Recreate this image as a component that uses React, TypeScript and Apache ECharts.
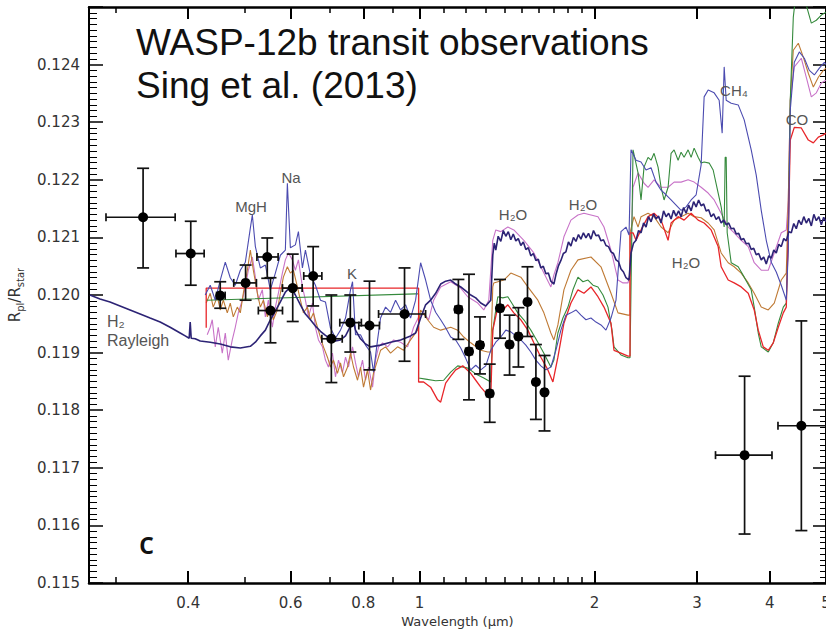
import React, { useEffect, useRef } from "react";
import * as echarts from "echarts";

const X_MIN = 0.27;
const X_MAX = 5;
const Y_MIN = 0.115;
const Y_MAX = 0.125;
const Y_STEP = 0.001;
const X_LABELS = [0.4, 0.6, 0.8, 1, 2, 3, 4, 5];
const X_MINOR = [0.3, 0.5, 0.7, 0.9, 1.1, 1.2, 1.3, 1.4, 1.5, 1.6, 1.7, 1.8, 1.9];

// observations: wavelength, Rpl/Rstar, wl low, wl high, R low, R high
const OBS: number[][] = [
  [0.3345, 0.12135, 0.2888, 0.3798, 0.12047, 0.1222],
  [0.404, 0.12072, 0.381, 0.426, 0.12017, 0.12128],
  [0.454, 0.11999, 0.4475, 0.463, 0.11977, 0.12023],
  [0.502, 0.12021, 0.479, 0.524, 0.11991, 0.12052],
  [0.547, 0.12066, 0.525, 0.571, 0.12029, 0.12099],
  [0.554, 0.11973, 0.528, 0.581, 0.11917, 0.1203],
  [0.605, 0.12012, 0.581, 0.628, 0.11954, 0.12071],
  [0.656, 0.12033, 0.632, 0.679, 0.11981, 0.12084],
  [0.705, 0.11924, 0.679, 0.736, 0.11848, 0.12],
  [0.76, 0.11952, 0.729, 0.794, 0.11901, 0.12],
  [0.82, 0.11947, 0.786, 0.853, 0.1187, 0.12024],
  [0.942, 0.11967, 0.85, 1.024, 0.11885, 0.12047],
  [1.166, 0.11975, 1.15, 1.182, 0.11923, 0.12027],
  [1.216, 0.11902, 1.2, 1.232, 0.11818, 0.12036],
  [1.27, 0.11913, 1.254, 1.286, 0.11863, 0.11962],
  [1.32, 0.11829, 1.304, 1.336, 0.11779, 0.1188],
  [1.375, 0.11977, 1.359, 1.391, 0.11925, 0.12027],
  [1.428, 0.11914, 1.412, 1.444, 0.11861, 0.11965],
  [1.479, 0.11928, 1.463, 1.495, 0.11875, 0.11978],
  [1.533, 0.11988, 1.517, 1.549, 0.11928, 0.12049],
  [1.585, 0.11849, 1.569, 1.601, 0.11784, 0.11914],
  [1.64, 0.11831, 1.624, 1.656, 0.11764, 0.11895],
  [3.622, 0.11722, 3.228, 4.037, 0.11585, 0.11859],
  [4.535, 0.11773, 4.134, 5.05, 0.11591, 0.11955],
];

const NAVY: number[][] = [
  [0.271,0.12],[0.282,0.11993],[0.2934,0.11988],[0.3053,0.11981],[0.3177,0.11974],[0.3306,0.11967],[0.3439,0.1196],[0.3579,0.11953],[0.3723,0.11944],[0.3874,0.11934],[0.3952,0.11929],[0.4015,0.11925],[0.4031,0.11953],[0.4047,0.11925],[0.4112,0.11924],[0.4194,0.1192],[0.4364,0.11918],[0.4541,0.11915],[0.4724,0.1191],[0.4916,0.11908],[0.5115,0.11911],[0.5218,0.11918],[0.5322,0.11929],[0.5429,0.11939],[0.5537,0.11957],[0.5648,0.11972],[0.5761,0.11988],[0.5876,0.12005],[0.5994,0.12014],[0.6114,0.12],[0.6237,0.11983],[0.6362,0.11967],[0.6489,0.11957],[0.6619,0.11946],[0.6752,0.11937],[0.6887,0.1193],[0.7025,0.11924],[0.7166,0.1192],[0.731,0.11922],[0.7457,0.11929],[0.7606,0.11946],[0.7667,0.1196],[0.7758,0.11939],[0.7913,0.11924],[0.8072,0.11915],[0.8234,0.1191],[0.8567,0.11913],[0.8913,0.11918],[0.9274,0.11922],[0.9649,0.11929],[0.9842,0.11934],[1.004,0.1196],[1.0241,0.11983],[1.0446,0.11991],[1.0655,0.12003],[1.0869,0.12019],[1.1087,0.12024],[1.131,0.12026],[1.1537,0.12019],[1.1768,0.12014],[1.2004,0.12007],[1.2244,0.12],[1.249,0.11995],[1.274,0.11986],[1.2995,0.11981],[1.3255,0.11991],
  [1.3361,0.12069],[1.344,0.1209],[1.3521,0.12078],[1.365,0.12102],[1.3792,0.12093],[1.393,0.12112],[1.4069,0.12102],[1.421,0.1211],[1.435,0.12096],[1.449,0.12106],[1.4638,0.12094],[1.478,0.12098],[1.4931,0.12086],[1.508,0.12092],[1.523,0.12079],[1.538,0.12082],[1.5535,0.12068],[1.569,0.12072],[1.5846,0.1206],[1.6,0.12062],[1.6164,0.12047],[1.632,0.1205],[1.6488,0.12037],[1.665,0.12038],[1.6818,0.12024],[1.702,0.12019],[1.7155,0.12035],[1.732,0.1205],[1.7499,0.1206],[1.767,0.12072],[1.785,0.12075],[1.803,0.12092],[1.8207,0.12085],[1.839,0.121],[1.8572,0.12093],[1.876,0.12105],[1.8944,0.12097],[1.913,0.12108],[1.9324,0.12099],[1.952,0.12107],[1.971,0.12097],[1.991,0.12112],[2.0105,0.12103],[2.031,0.12104],[2.0508,0.12094],[2.071,0.12096],[2.0919,0.12086],[2.113,0.12084],[2.1338,0.12075],[2.155,0.12072],[2.1766,0.12061],[2.198,0.12058],[2.2201,0.12045],[2.242,0.1204],[2.2646,0.1203],[2.2918,0.12026],
  [2.31,0.12073],[2.333,0.1209],[2.3563,0.12095],[2.38,0.12112],[2.4034,0.12108],[2.428,0.12125],[2.4516,0.12118],[2.476,0.12136],[2.5007,0.12127],[2.526,0.12141],[2.5508,0.12132],[2.576,0.12137],[2.6019,0.12125],[2.628,0.12146],[2.6541,0.12136],[2.681,0.12142],[2.7072,0.12132],[2.734,0.12147],[2.7615,0.12137],[2.789,0.12146],[2.8167,0.12136],[2.845,0.12152],[2.8732,0.12142],[2.902,0.12156],[2.9307,0.12146],[2.96,0.12162],[2.9895,0.12153],[3.019,0.12165],[3.0493,0.12155],[3.08,0.12158],[3.1104,0.12146],[3.141,0.12148],[3.1727,0.12136],[3.204,0.12141],[3.2363,0.12131],[3.268,0.12136],[3.3011,0.12125],[3.334,0.1213],[3.3673,0.12122],[3.401,0.12125],[3.4347,0.12115],[3.469,0.12116],[3.5036,0.12106],[3.538,0.12107],[3.5737,0.12096],[3.609,0.12098],[3.6454,0.12089],[3.681,0.1209],[3.7183,0.12079],[3.755,0.12081],[3.7929,0.1207],[3.83,0.12072],[3.8688,0.12061],[3.907,0.12066],[3.9464,0.12054],[3.986,0.12068],[4.0254,0.12064],[4.066,0.12078],[4.1061,0.12073],[4.147,0.12088],[4.1883,0.12084],[4.23,0.12098],[4.2723,0.12094],[4.315,0.1211],[4.3577,0.12108],[4.401,0.12124],[4.4451,0.12115],[4.489,0.1213],[4.5341,0.12122],[4.579,0.12136],[4.625,0.12125],[4.671,0.12133],[4.7176,0.1212],[4.765,0.1214],[4.8122,0.12129],[4.86,0.12136],[4.9085,0.12122],[4.954,0.12135],[5.0,0.12127]
];

const BLUE: number[][] = [
  [0.4278,0.12],[0.4364,0.12017],[0.4452,0.11991],[0.4541,0.12026],[0.4632,0.12057],[0.4724,0.1203],[0.4819,0.12017],[0.4916,0.12043],[0.5015,0.12057],[0.5115,0.12116],[0.5156,0.12139],[0.5218,0.12084],[0.5322,0.12047],[0.5429,0.12052],[0.5537,0.12009],[0.5648,0.12038],[0.5761,0.12069],[0.5876,0.12078],[0.5923,0.12194],[0.5994,0.12082],[0.6114,0.12087],[0.6188,0.1211],[0.6287,0.12047],[0.6362,0.12078],[0.6489,0.12035],[0.6619,0.12017],[0.6752,0.11991],[0.6887,0.11988],[0.7025,0.11943],[0.7166,0.11925],[0.731,0.11939],[0.7457,0.1196],[0.7606,0.12009],[0.7667,0.12023],[0.7758,0.11931],[0.7913,0.11931],[0.8072,0.11913],[0.8234,0.11901],[0.8333,0.11866],[0.8466,0.11922],[0.8567,0.1196],[0.8739,0.11979],[0.8913,0.1197],[0.9092,0.11991],[0.9274,0.11974],[0.946,0.11983],[0.9649,0.1196],[0.9842,0.11991],[1.004,0.12056],[1.0241,0.12026],[1.0446,0.11991],[1.0655,0.1197],[1.0869,0.11957],[1.1087,0.11943],[1.131,0.11927],[1.1537,0.11922],[1.1768,0.11908],[1.2004,0.1189],[1.2244,0.1187],[1.249,0.11878],[1.274,0.1187],[1.2995,0.11877],[1.3255,0.11904],[1.3521,0.11918],[1.3792,0.11927],[1.4069,0.11939],[1.435,0.11936],[1.4638,0.11929],[1.4931,0.11922],[1.523,0.11913],[1.5535,0.11901],[1.5846,0.11887],[1.6164,0.11877],[1.6488,0.1187],[1.6818,0.11875],[1.7155,0.11904],[1.7499,0.11939],[1.785,0.11965],[1.8207,0.11969],[1.8572,0.11974],[1.8944,0.11965],[1.9324,0.11957],[1.971,0.1196],[2.0105,0.11953],[2.0508,0.11948],[2.0919,0.11939],[2.1338,0.1196],[2.1766,0.11991],[2.2201,0.1211],[2.2646,0.12118],[2.2918,0.12104],[2.31,0.12252],[2.3563,0.12234],[2.4034,0.12231],[2.4516,0.12217],[2.5007,0.12221],[2.5508,0.12196],[2.6019,0.12182],[2.6541,0.12174],[2.7072,0.12165],[2.7615,0.12156],[2.8167,0.12147],[2.8732,0.12153],[2.9307,0.12165],[2.9895,0.12174],[3.0493,0.12226],[3.0859,0.12344],[3.1353,0.12356],[3.2108,0.12351],[3.2749,0.12338],[3.3143,0.12281],[3.3407,0.12396],[3.3673,0.12338],[3.4347,0.12333],[3.5316,0.1233],[3.6164,0.12304],[3.7183,0.12252],[3.7929,0.12208],[3.8688,0.12147],[3.9464,0.12095],[4.0254,0.12057],[4.1061,0.1204],[4.1883,0.12017],[4.2723,0.11991],[4.3065,0.12078],[4.3403,0.12321],[4.41,0.12404],[4.4985,0.12422],[4.5885,0.12411],[4.6805,0.1239],[4.7742,0.12382],[4.8699,0.12394],[4.9674,0.12404],[5.0,0.124]
];

const RED: number[][] = [
  [0.4295,0.11943],[0.4295,0.12012],[0.9842,0.12012],[0.996,0.12012],[0.996,0.11849],[1.016,0.11849],[1.0446,0.1184],[1.074,0.11818],[1.0869,0.11814],[1.1087,0.11847],[1.131,0.11859],[1.1537,0.1187],[1.1862,0.11877],[1.2244,0.11864],[1.249,0.11852],[1.274,0.1184],[1.2995,0.1183],[1.3255,0.11823],[1.3361,0.11939],[1.3629,0.11979],[1.3902,0.11974],[1.4182,0.11983],[1.4522,0.11969],[1.4931,0.11957],[1.5352,0.11939],[1.5721,0.11917],[1.6164,0.11892],[1.662,0.1187],[1.6953,0.11849],[1.7292,0.11892],[1.7709,0.11951],[1.8207,0.11986],[1.8721,0.12009],[1.9171,0.12003],[1.971,0.12014],[2.0266,0.11997],[2.0754,0.11979],[2.1338,0.11951],[2.1594,0.11904],[2.2201,0.11899],[2.2827,0.11894],[2.3008,0.11894],[2.3008,0.12108],[2.3285,0.12108],[2.3563,0.12095],[2.4034,0.12113],[2.4712,0.12136],[2.5307,0.12142],[2.6019,0.1213],[2.6753,0.12095],[2.7072,0.12125],[2.7836,0.12136],[2.8505,0.1213],[2.9307,0.12142],[3.0134,0.1213],[3.0859,0.12125],[3.1727,0.12113],[3.2622,0.12084],[3.3011,0.12049],[3.3942,0.12026],[3.4759,0.12021],[3.5737,0.12014],[3.6746,0.12003],[3.7629,0.11974],[3.8232,0.11939],[3.8997,0.1191],[3.978,0.11904],[4.0576,0.11917],[4.1389,0.11944],[4.2218,0.11969],[4.2723,0.11979],[4.3065,0.12108],[4.3403,0.12269],[4.41,0.12291],[4.5341,0.1229],[4.662,0.12269],[4.7553,0.12264],[4.8507,0.12274],[4.9478,0.12278],[5.0,0.12281]
];

const GREEN: number[][] = [
  [0.4295,0.11991],[0.9842,0.12002],[0.996,0.12002],[0.996,0.11856],[1.0241,0.11854],[1.0655,0.11851],[1.0999,0.11852],[1.131,0.11866],[1.1629,0.11877],[1.21,0.11873],[1.249,0.11863],[1.2893,0.11856],[1.3255,0.11849],[1.3361,0.11939],[1.3629,0.11997],[1.3902,0.11995],[1.4182,0.11997],[1.4465,0.11983],[1.4755,0.11969],[1.511,0.11957],[1.5535,0.11939],[1.5973,0.11918],[1.6358,0.11899],[1.6818,0.11875],[1.702,0.11887],[1.7292,0.11934],[1.7639,0.1196],[1.7993,0.11979],[1.8353,0.12009],[1.8721,0.12031],[1.9096,0.12023],[1.9479,0.12026],[1.9868,0.12017],[2.0266,0.12014],[2.0672,0.12],[2.1086,0.11979],[2.1423,0.11939],[2.1594,0.1191],[2.2201,0.11896],[2.2827,0.11891],[2.3008,0.11891],[2.3285,0.12252],[2.3752,0.12212],[2.4034,0.12165],[2.4322,0.12222],[2.4712,0.12239],[2.5007,0.12234],[2.5307,0.12246],[2.5712,0.12222],[2.6019,0.12187],[2.6331,0.12165],[2.6753,0.12187],[2.7072,0.12246],[2.7397,0.12252],[2.7836,0.12234],[2.8167,0.12248],[2.8505,0.12239],[2.8962,0.12252],[2.9307,0.12239],[2.9659,0.12255],[3.0134,0.12239],[3.0493,0.12229],[3.0859,0.12231],[3.1477,0.12229],[3.1981,0.12217],[3.2622,0.12177],[3.3011,0.12153],[3.3407,0.12118],[3.3539,0.12239],[3.3673,0.12239],[3.3808,0.12108],[3.4347,0.12056],[3.5316,0.12049],[3.6164,0.12031],[3.7183,0.12009],[3.7629,0.11979],[3.8232,0.11934],[3.8688,0.1191],[3.978,0.11901],[4.0576,0.11917],[4.1389,0.11951],[4.2218,0.11979],[4.2723,0.11986],[4.3065,0.12108],[4.3403,0.12338],[4.3926,0.12482],[4.4451,0.12529],[4.5341,0.12547],[4.625,0.12503],[4.7176,0.12472],[4.8122,0.12477],[4.9085,0.12486],[5.0,0.12491]
];

const ORANGE: number[][] = [
  [0.4295,0.11986],[0.4364,0.12003],[0.4416,0.11979],[0.4488,0.11997],[0.4541,0.11974],[0.4596,0.11991],[0.4669,0.11969],[0.4724,0.11986],[0.4781,0.11962],[0.4858,0.11979],[0.4916,0.11969],[0.4975,0.12003],[0.5055,0.12043],[0.5115,0.12078],[0.5176,0.12043],[0.526,0.12003],[0.5322,0.11979],[0.5386,0.11991],[0.5472,0.11962],[0.5537,0.11979],[0.5603,0.11957],[0.5693,0.11974],[0.5761,0.12003],[0.583,0.12031],[0.5923,0.12049],[0.5994,0.12038],[0.6066,0.12043],[0.6163,0.12014],[0.6237,0.11991],[0.6312,0.11969],[0.6413,0.11979],[0.6489,0.11957],[0.6567,0.11969],[0.6672,0.11944],[0.6752,0.11927],[0.6833,0.1191],[0.6942,0.11892],[0.7025,0.11875],[0.7109,0.11887],[0.7223,0.11864],[0.731,0.11882],[0.7398,0.11858],[0.7517,0.11875],[0.7606,0.11899],[0.7697,0.11875],[0.782,0.11852],[0.7913,0.11875],[0.8008,0.1184],[0.8137,0.1187],[0.8234,0.11835],[0.8333,0.11865],[0.8466,0.11887],[0.8567,0.11904],[0.8739,0.1191],[0.8913,0.11899],[0.9165,0.1191],[0.9385,0.11904],[0.9649,0.11922],[0.9921,0.11939],[1.004,0.11974],[1.0323,0.11957],[1.0571,0.11944],[1.0869,0.11939],[1.131,0.11944],[1.1629,0.11939],[1.1909,0.11927],[1.2244,0.11917],[1.274,0.11904],[1.3099,0.11901],[1.3255,0.11901],[1.3361,0.12014],[1.3414,0.12021],[1.3958,0.12026],[1.435,0.12038],[1.4931,0.12031],[1.5352,0.12014],[1.5973,0.11991],[1.6358,0.11969],[1.6818,0.11934],[1.702,0.11922],[1.7292,0.11948],[1.7709,0.12009],[1.8207,0.12043],[1.8721,0.12061],[1.971,0.12066],[2.0508,0.12049],[2.1338,0.12003],[2.194,0.11969],[2.2827,0.11965],[2.3008,0.11965],[2.3008,0.12108],[2.3377,0.12136],[2.3752,0.12118],[2.4034,0.12136],[2.4712,0.12142],[2.5307,0.12136],[2.6019,0.12118],[2.6753,0.12108],[2.7397,0.1213],[2.8167,0.12136],[2.8962,0.12142],[2.9659,0.12136],[3.0493,0.12134],[3.1353,0.12125],[3.2108,0.12113],[3.3011,0.12073],[3.3942,0.12056],[3.4759,0.12049],[3.5737,0.12038],[3.6746,0.12021],[3.7629,0.12003],[3.8688,0.11979],[3.978,0.11974],[4.0737,0.11986],[4.1883,0.12026],[4.2723,0.12038],[4.3065,0.12165],[4.3403,0.12338],[4.3926,0.12425],[4.4807,0.12437],[4.5704,0.12413],[4.662,0.12385],[4.7553,0.12361],[4.8507,0.12378],[4.9478,0.1239],[5.0,0.12394]
];

const MAGENTA: number[][] = [
  [0.4312,0.11931],[0.4364,0.11944],[0.4399,0.11957],[0.4452,0.1191],[0.4505,0.11944],[0.4577,0.11899],[0.4632,0.11934],[0.4687,0.11887],[0.4762,0.11922],[0.4819,0.11944],[0.4877,0.11969],[0.4955,0.11991],[0.5015,0.12014],[0.5075,0.12043],[0.5156,0.12066],[0.5218,0.12031],[0.528,0.11991],[0.5364,0.12009],[0.5429,0.11962],[0.5493,0.11991],[0.5581,0.11944],[0.5648,0.11979],[0.5715,0.12003],[0.5807,0.12038],[0.5876,0.12061],[0.5947,0.12073],[0.6042,0.12061],[0.6114,0.12043],[0.6188,0.12061],[0.6287,0.12014],[0.6362,0.11991],[0.6438,0.11962],[0.6541,0.11986],[0.6619,0.11944],[0.6699,0.11922],[0.6806,0.1191],[0.6887,0.11887],[0.6969,0.11875],[0.7081,0.11899],[0.7166,0.11858],[0.7252,0.11887],[0.7368,0.11865],[0.7457,0.11892],[0.7546,0.11875],[0.7667,0.1191],[0.7758,0.11882],[0.7851,0.11858],[0.7976,0.11887],[0.8072,0.11852],[0.8169,0.11875],[0.83,0.1184],[0.8399,0.11887],[0.85,0.1191],[0.8636,0.11917],[0.8809,0.1191],[0.902,0.11922],[0.9274,0.11918],[0.9536,0.1191],[0.9765,0.11944],[0.996,0.11962],[1.016,0.11969],[1.0364,0.11957],[1.0571,0.11991],[1.0869,0.12014],[1.131,0.12023],[1.1768,0.12012],[1.21,0.11997],[1.259,0.11986],[1.2893,0.11974],[1.3151,0.11991],[1.3361,0.12095],[1.3521,0.12113],[1.3792,0.1211],[1.4182,0.12118],[1.4522,0.12113],[1.4814,0.12104],[1.511,0.12095],[1.5413,0.12084],[1.5721,0.12073],[1.6036,0.12056],[1.6358,0.12038],[1.6818,0.12014],[1.702,0.12035],[1.7292,0.12056],[1.7709,0.12101],[1.8207,0.1213],[1.8721,0.12139],[1.9171,0.12142],[1.971,0.12139],[2.0266,0.12136],[2.0754,0.12118],[2.1086,0.12095],[2.1338,0.12078],[2.194,0.12026],[2.2379,0.12021],[2.2827,0.12021],[2.3008,0.12038],[2.3285,0.12187],[2.3752,0.12212],[2.4322,0.12194],[2.4712,0.12187],[2.5307,0.122],[2.6019,0.12187],[2.6753,0.12187],[2.7397,0.12196],[2.8167,0.12196],[2.8962,0.122],[2.9659,0.12196],[3.0493,0.12187],[3.1353,0.12177],[3.2108,0.12165],[3.3011,0.12142],[3.3942,0.12118],[3.4759,0.12108],[3.5737,0.12095],[3.6746,0.12084],[3.7629,0.12056],[3.8688,0.12043],[3.978,0.12043],[4.0737,0.12073],[4.1883,0.12108],[4.2723,0.12113],[4.3065,0.12165],[4.3403,0.12338],[4.41,0.12396],[4.5341,0.12411],[4.625,0.12378],[4.7176,0.12344],[4.8122,0.12351],[4.9085,0.12368],[5.0,0.12373]
];

const MODELS = [
  { name: "magenta", data: MAGENTA, color: "#c873c8", width: 1.1, z: 3 },
  { name: "orange", data: ORANGE, color: "#bf7a35", width: 1.1, z: 4 },
  { name: "green", data: GREEN, color: "#358a3c", width: 1.1, z: 5 },
  { name: "red", data: RED, color: "#e8262a", width: 1.3, z: 6 },
  { name: "blue", data: BLUE, color: "#4b4bb0", width: 1.1, z: 7 },
  { name: "navy", data: NAVY, color: "#2c2375", width: 1.6, z: 8 },
];

const ANNOTATIONS: { text: string; x: number; y: number; size: number; align?: string }[] = [
  { text: "MgH", x: 251, y: 206, size: 15 },
  { text: "Na", x: 291, y: 177, size: 15 },
  { text: "K", x: 352, y: 273, size: 15 },
  { text: "H\u2082O", x: 513, y: 214, size: 15 },
  { text: "H\u2082O", x: 583, y: 204, size: 15 },
  { text: "H\u2082O", x: 686, y: 262, size: 15 },
  { text: "CH\u2084", x: 734, y: 90, size: 15 },
  { text: "CO", x: 797, y: 119, size: 15 },
  { text: "H\u2082", x: 107, y: 321, size: 16, align: "left" },
  { text: "Rayleigh", x: 107, y: 340, size: 16, align: "left" },
];

const lg = (v: number) => Math.log10(v);

export default function App() {
  const ref = useRef<HTMLDivElement>(null);
  useEffect(() => {
    document.body.style.margin = "0";
    if (!ref.current) return;
    const chart = echarts.init(ref.current, undefined, { renderer: "svg" });
    const LMIN = lg(X_MIN);
    const LMAX = lg(X_MAX);
    const majorX = X_LABELS.map(lg);
    const minorX = X_MINOR.map(lg);
    const fmtX = (v: number) => {
      const x = Math.pow(10, v);
      return x < 1 ? x.toFixed(1) : String(Math.round(x));
    };
    const baseX = {
      type: "value",
      min: LMIN,
      max: LMAX,
      splitLine: { show: false },
      gridIndex: 0,
    };
    const obsData = OBS.map((o) => [lg(o[0]), o[1], lg(o[2]), lg(o[3]), o[4], o[5]]);

    const option: any = {
      animation: false,
      backgroundColor: "#ffffff",
      textStyle: { fontFamily: "DejaVu Sans" },
      grid: { left: 89, right: 0, top: 7, bottom: 49, containLabel: false, outerBoundsMode: "none" },
      xAxis: [
        {
          ...baseX,
          position: "bottom",
          axisLine: { show: true, onZero: false, lineStyle: { color: "#000", width: 2.5 } },
          axisTick: { show: true, inside: true, length: 12, customValues: majorX, lineStyle: { color: "#000", width: 2 } },
          axisLabel: { show: true, customValues: majorX, formatter: fmtX, color: "#333", fontSize: 15, margin: 12, fontFamily: "DejaVu Sans" },
          name: "Wavelength (\u03bcm)",
          nameLocation: "middle",
          nameGap: 31,
          nameTextStyle: { color: "#333", fontSize: 13, fontFamily: "DejaVu Sans" },
        },
        {
          ...baseX,
          position: "bottom",
          axisLine: { show: false, onZero: false },
          axisTick: { show: true, inside: true, length: 6, customValues: minorX, lineStyle: { color: "#000", width: 1.5 } },
          axisLabel: { show: false },
        },
        {
          ...baseX,
          position: "top",
          axisLine: { show: true, onZero: false, lineStyle: { color: "#000", width: 2.5 } },
          axisTick: { show: true, inside: true, length: 12, customValues: majorX, lineStyle: { color: "#000", width: 2 } },
          axisLabel: { show: false },
        },
        {
          ...baseX,
          position: "top",
          axisLine: { show: false, onZero: false },
          axisTick: { show: true, inside: true, length: 6, customValues: minorX, lineStyle: { color: "#000", width: 1.5 } },
          axisLabel: { show: false },
        },
      ],
      yAxis: [
        {
          type: "value",
          min: Y_MIN,
          max: Y_MAX,
          interval: Y_STEP,
          position: "left",
          axisLine: { show: true, onZero: false, lineStyle: { color: "#000", width: 2 } },
          axisTick: { show: true, inside: true, length: 14, lineStyle: { color: "#000", width: 1.5 } },
          minorTick: { show: true, splitNumber: 10, length: 8, lineStyle: { color: "#000", width: 1 } },
          axisLabel: {
            formatter: (v: number) => v.toFixed(3),
            showMaxLabel: false,
            color: "#333",
            fontSize: 15,
            margin: 9,
            fontFamily: "DejaVu Sans",
          },
          splitLine: { show: false },
          name: "{a|R}{b|pl}{a|/R}{b|star}",
          nameLocation: "middle",
          nameGap: 64,
          nameRotate: 90,
          nameTextStyle: {
            rich: {
              a: { fontSize: 15, color: "#333", fontFamily: "DejaVu Sans", lineHeight: 20, verticalAlign: "middle" },
              b: { fontSize: 10, color: "#333", fontFamily: "DejaVu Sans", lineHeight: 10, verticalAlign: "bottom" },
            },
          },
        },
        {
          type: "value",
          min: Y_MIN,
          max: Y_MAX,
          interval: Y_STEP,
          position: "right",
          axisLine: { show: true, onZero: false, lineStyle: { color: "#000", width: 2 } },
          axisTick: { show: true, inside: true, length: 13, lineStyle: { color: "#000", width: 1.5 } },
          minorTick: { show: true, splitNumber: 10, length: 6, lineStyle: { color: "#000", width: 1 } },
          axisLabel: { show: false },
          splitLine: { show: false },
        },
      ],
      series: [
        ...MODELS.map((m) => ({
          type: "line",
          name: m.name,
          xAxisIndex: 0,
          yAxisIndex: 0,
          data: m.data.map((p) => [lg(p[0]), p[1]]),
          showSymbol: false,
          symbol: "none",
          silent: true,
          clip: true,
          z: m.z,
          lineStyle: { color: m.color, width: m.width },
        })),
        {
          type: "custom",
          name: "observations",
          xAxisIndex: 0,
          yAxisIndex: 0,
          data: obsData,
          encode: { x: 0, y: 1 },
          clip: true,
          z: 20,
          silent: true,
          renderItem: (params: any, api: any) => {
            const x = api.value(0);
            const y = api.value(1);
            const c = api.coord([x, y]);
            const l = api.coord([api.value(2), y]);
            const r = api.coord([api.value(3), y]);
            const lo = api.coord([x, api.value(4)]);
            const hi = api.coord([x, api.value(5)]);
            const st = { stroke: "#111", lineWidth: 1.7, fill: null };
            const cw = 6;
            const ch = 4;
            return {
              type: "group",
              children: [
                { type: "line", shape: { x1: l[0], y1: c[1], x2: r[0], y2: c[1] }, style: st },
                { type: "line", shape: { x1: l[0], y1: c[1] - ch, x2: l[0], y2: c[1] + ch }, style: st },
                { type: "line", shape: { x1: r[0], y1: c[1] - ch, x2: r[0], y2: c[1] + ch }, style: st },
                { type: "line", shape: { x1: c[0], y1: lo[1], x2: c[0], y2: hi[1] }, style: st },
                { type: "line", shape: { x1: c[0] - cw, y1: lo[1], x2: c[0] + cw, y2: lo[1] }, style: st },
                { type: "line", shape: { x1: c[0] - cw, y1: hi[1], x2: c[0] + cw, y2: hi[1] }, style: st },
                { type: "circle", shape: { cx: c[0], cy: c[1], r: 5 }, style: { fill: "#000" } },
              ],
            };
          },
        },
      ],
      graphic: [
        {
          type: "text",
          x: 136,
          y: 21,
          z: 30,
          style: {
            text: "WASP-12b transit observations\nSing et al. (2013)",
            fontSize: 37,
            lineHeight: 43,
            fontFamily: "Liberation Sans",
            fill: "#111",
            verticalAlign: "top",
            align: "left",
          },
        },
        {
          type: "text",
          x: 139,
          y: 542,
          z: 30,
          style: { text: "c", fontSize: 30, fontWeight: 600, fontFamily: "Open Sans", fill: "#111", verticalAlign: "middle", align: "left" },
        },
        ...ANNOTATIONS.map((a) => ({
          type: "text",
          x: a.x,
          y: a.y,
          z: 30,
          style: {
            text: a.text,
            fontSize: a.size,
            fontFamily: "Liberation Sans",
            fill: "#555",
            align: a.align || "center",
            verticalAlign: "middle",
          },
        })),
      ],
    };
    chart.setOption(option);
    return () => chart.dispose();
  }, []);
  return <div ref={ref} style={{ width: 826, height: 632 }} />;
}
